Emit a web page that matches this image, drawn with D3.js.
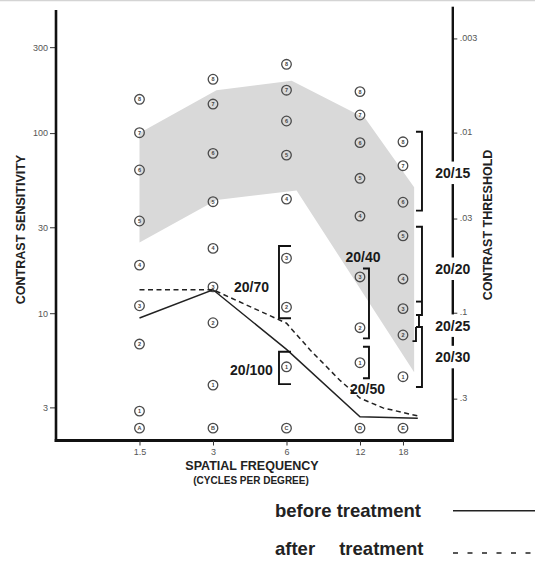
<!DOCTYPE html>
<html><head><meta charset="utf-8">
<script src="https://cdn.jsdelivr.net/npm/d3@7"></script>
<style>body{margin:0;background:#fff}svg{display:block}</style>
</head><body>
<svg id="chart" width="535" height="561"></svg>
<script>
// Spatial frequencies of the test columns (cycles per degree)
const frequencies = [1.5, 3, 6, 12, 18];
const frequencyTickLabels = ["1.5", "3", "6", "12", "18"];
const columnLetters = ["A", "B", "C", "D", "E"];
const letterRowSensitivity = 2.3;

// Contrast sensitivity of test patches 1..8 in each column
const plateNumbers = [1, 2, 3, 4, 5, 6, 7, 8];
const platesAt1_5 = [2.86, 6.74, 11.0, 18.5, 32.5, 62.4, 100.5, 154];
const platesAt3 = [3.99, 8.85, 14.0, 22.9, 41.6, 77.2, 145, 199];
const platesAt6 = [5.04, 10.8, 20.2, 43, 75.5, 116.7, 173, 241];
const platesAt12 = [5.31, 8.31, 15.9, 34.6, 56.1, 88.5, 126, 170];
const platesAt18 = [4.44, 7.57, 10.6, 15.5, 26.9, 41.3, 65.9, 89.5];

// Axis ticks
const sensitivityTicks = [3, 10, 30, 100, 300];
const thresholdTicks = [0.003, 0.01, 0.03, 0.1, 0.3];
const thresholdTickLabels = [".003", ".01", ".03", ".1", ".3"];

// Normal range (shaded band)
const normalUpperFreq = [1.5, 3.1, 6.3, 12.6, 20];
const normalUpperSens = [100, 173, 195, 121, 50];
const normalLowerFreq = [20, 6.6, 3.1, 1.5];
const normalLowerSens = [4.7, 48, 42.5, 24.7];

// Patient curves
const beforeFreq = [1.5, 3, 6, 12, 20.7];
const beforeSens = [9.4, 13.5, 6.3, 2.66, 2.61];
const afterFreq = [1.5, 3, 6, 7.5, 9.9, 12, 14.9, 20.7];
const afterSens = [13.5, 13.5, 8.8, 6.25, 4.26, 3.38, 2.98, 2.69];

// Snellen acuity equivalents: column and sensitivity span of each bracket,
// and the sensitivity level at which each label sits
const acuityLabels = ["20/15", "20/20", "20/25", "20/30", "20/40", "20/50", "20/70", "20/100"];
const acuityFreq = [18, 18, 18, 18, 12, 12, 6, 6];
const acuityHigh = [101.8, 30.2, 11.6, 8.38, 17.7, 6.51, 23.6, 6.11];
const acuityLow = [37.1, 9.77, 7.0, 3.89, 7.25, 4.35, 9.37, 4.04];
const acuityLabelSens = [60, 17.6, 8.5, 5.69, 20.6, 3.79, 14.0, 4.84];
const acuityPlacement = ["axis", "axis", "axis", "axis", "above", "below", "left", "left"];

const legendLabels = ["before treatment", "after", "treatment"];

const svg = d3.select("#chart");
const font = "'Liberation Sans', Arial, Helvetica, sans-serif";

const x = d3.scaleLog().domain([0.6825, 28.58]).range([56, 452]);
const y = d3.scaleLog().domain([2, 480]).range([439.1, 10.4]);

const frameLeft = 56, frameRight = 452.8, frameTop = 10, frameBottom = 440.5;

// faint rule along the top edge
svg.append("line").attr("x1", 0).attr("x2", 535).attr("y1", 0.5).attr("y2", 0.5)
  .attr("stroke", "#d4d4d4").attr("stroke-width", 1.5);

// normal range band
const bandPts = normalUpperFreq.map((f, i) => [x(f), y(normalUpperSens[i])])
  .concat(normalLowerFreq.map((f, i) => [x(f), y(normalLowerSens[i])]));
svg.append("path").attr("d", d3.line()(bandPts) + "Z").attr("fill", "#d9d9d9");

// circled test patches
const columns = [platesAt1_5, platesAt3, platesAt6, platesAt12, platesAt18];
const patches = [];
columns.forEach((col, ci) => col.forEach((v, pi) =>
  patches.push({ f: frequencies[ci], v, t: String(plateNumbers[pi]) })));
frequencies.forEach((f, i) => patches.push({ f, v: letterRowSensitivity, t: columnLetters[i] }));

const pg = svg.append("g");
pg.selectAll("circle").data(patches).join("circle")
  .attr("cx", d => x(d.f)).attr("cy", d => y(d.v)).attr("r", 4.8)
  .attr("fill", "none").attr("stroke", "#4a4a4a").attr("stroke-width", 1.3);
pg.selectAll("text").data(patches).join("text")
  .attr("x", d => x(d.f)).attr("y", d => y(d.v) + 2)
  .attr("text-anchor", "middle").attr("font-family", font).attr("font-size", 5.5)
  .attr("font-weight", "bold").attr("fill", "#444").text(d => d.t);

// patient curves
const line = d3.line().x(d => x(d[0])).y(d => y(d[1]));
svg.append("path").attr("d", line(beforeFreq.map((f, i) => [f, beforeSens[i]])))
  .attr("fill", "none").attr("stroke", "#222").attr("stroke-width", 1.5);
svg.append("path").attr("d", line(afterFreq.map((f, i) => [f, afterSens[i]])))
  .attr("fill", "none").attr("stroke", "#222").attr("stroke-width", 1.5)
  .attr("stroke-dasharray", "5,3.5");

// acuity brackets and labels
const bg = svg.append("g").attr("fill", "none").attr("stroke", "#111").attr("stroke-width", 1.9);
const lg = svg.append("g").attr("font-family", font).attr("font-size", 14)
  .attr("font-weight", "bold").attr("fill", "#1a1a1a");
const axisGaps = [];
acuityLabels.forEach((lab, i) => {
  const xc = x(acuityFreq[i]);
  const y0 = y(acuityHigh[i]), y1 = y(acuityLow[i]);
  const place = acuityPlacement[i];
  if (lab === "20/25") {
    const yPrevLow = y(acuityLow[i - 1]), yNextHigh = y(acuityHigh[i + 1]);
    bg.append("path").attr("d", `M${xc + 13},${y0}H${xc + 19}`);
    bg.append("path").attr("d", `M${xc + 16},${yPrevLow}V${yNextHigh}`);
    bg.append("path").attr("d", `M${xc + 13},${yNextHigh}V${y1}H${xc + 9.5}`);
  } else if (place === "left") {
    bg.append("path").attr("d", `M${xc + 4.5},${y0}H${xc - 7.5}V${y1}H${xc + 4.5}`);
  } else if (acuityFreq[i] === 18) {
    bg.append("path").attr("d", `M${xc + 13},${y0}H${xc + 19}V${y1}H${xc + 13}`);
  } else {
    bg.append("path").attr("d", `M${xc + 3},${y0}H${xc + 9}V${y1}H${xc + 3}`);
  }
  const ty = y(acuityLabelSens[i]) + 5;
  let tx;
  if (place === "axis") { tx = frameRight; axisGaps.push([ty - 16.5, ty + 6]); }
  else if (place === "left") tx = xc - 35;
  else if (place === "above") tx = xc + 3;
  else tx = xc + 7.5;
  lg.append("text").attr("x", tx).attr("y", ty).attr("text-anchor", "middle").text(lab);
});

// left axis (contrast sensitivity)
const la = svg.append("g").attr("transform", `translate(${frameLeft},0)`)
  .call(d3.axisLeft(y).tickValues(sensitivityTicks).tickFormat(d3.format("d")).tickSize(6).tickPadding(2));
la.select(".domain").remove();
la.selectAll("line").attr("stroke", "#333").attr("stroke-width", 1);
la.selectAll("text").attr("font-family", font).attr("font-size", 9).attr("fill", "#555");

// right axis (contrast threshold = 1 / sensitivity)
const yT = v => y(1 / v);
const ra = svg.append("g").attr("transform", `translate(${frameRight},0)`);
ra.selectAll("g").data(thresholdTicks).join("g").each(function (t, i) {
  const g = d3.select(this);
  g.append("line").attr("x1", 0).attr("x2", 4.5).attr("y1", yT(t)).attr("y2", yT(t))
    .attr("stroke", "#333").attr("stroke-width", 1);
  g.append("text").attr("x", 7).attr("y", yT(t) + 2).attr("font-family", font)
    .attr("font-size", 9).attr("fill", "#555").text(thresholdTickLabels[i]);
});
// broken right spine, interrupted by the acuity labels
let segStart = 6.7;
const spineSegs = [];
axisGaps.sort((a, b) => a[0] - b[0]).forEach(g => { spineSegs.push([segStart, g[0]]); segStart = g[1]; });
spineSegs.push([segStart, frameBottom + 1]);
spineSegs.forEach(s => svg.append("line").attr("x1", frameRight).attr("x2", frameRight)
  .attr("y1", s[0]).attr("y2", s[1]).attr("stroke", "#111").attr("stroke-width", 2.4));

// left spine and baseline
svg.append("line").attr("x1", frameLeft).attr("x2", frameLeft).attr("y1", frameTop).attr("y2", frameBottom + 1.5)
  .attr("stroke", "#111").attr("stroke-width", 2.6);
svg.append("line").attr("x1", frameLeft - 1.3).attr("x2", frameRight + 1.2).attr("y1", frameBottom).attr("y2", frameBottom)
  .attr("stroke", "#111").attr("stroke-width", 2.8);

// x axis ticks
const xa = svg.append("g").attr("transform", `translate(0,${frameBottom})`)
  .call(d3.axisBottom(x).tickValues(frequencies).tickFormat((d, i) => frequencyTickLabels[i]).tickSize(5).tickPadding(3));
xa.select(".domain").remove();
xa.selectAll("line").attr("stroke", "#333").attr("stroke-width", 1);
xa.selectAll("text").attr("font-family", font).attr("font-size", 9).attr("fill", "#555");

// axis titles
const tg = svg.append("g").attr("font-family", font).attr("font-weight", "bold").attr("fill", "#222");
tg.append("text").attr("x", 252).attr("y", 470).attr("text-anchor", "middle")
  .attr("font-size", 12.5).text("SPATIAL FREQUENCY");
tg.append("text").attr("x", 251).attr("y", 483.5).attr("text-anchor", "middle")
  .attr("font-size", 10).text("(CYCLES PER DEGREE)");
tg.append("text").attr("transform", "translate(25,229.5) rotate(-90)").attr("text-anchor", "middle")
  .attr("font-size", 12.5).text("CONTRAST SENSITIVITY");
tg.append("text").attr("transform", "translate(491.5,225) rotate(-90)").attr("text-anchor", "middle")
  .attr("font-size", 12.5).text("CONTRAST THRESHOLD");

// legend
const leg = svg.append("g").attr("font-family", font).attr("font-weight", "bold")
  .attr("font-size", 18.5).attr("fill", "#222");
leg.append("text").attr("x", 275).attr("y", 516.5).text(legendLabels[0]);
leg.append("text").attr("x", 275).attr("y", 555).text(legendLabels[1]);
leg.append("text").attr("x", 423.5).attr("y", 555).attr("text-anchor", "end").text(legendLabels[2]);
svg.append("line").attr("x1", 453).attr("x2", 535).attr("y1", 510.7).attr("y2", 510.7)
  .attr("stroke", "#222").attr("stroke-width", 1.5);
svg.append("line").attr("x1", 453).attr("x2", 535).attr("y1", 553).attr("y2", 553)
  .attr("stroke", "#222").attr("stroke-width", 1.5).attr("stroke-dasharray", "5,9.5");
</script>
</body></html>
